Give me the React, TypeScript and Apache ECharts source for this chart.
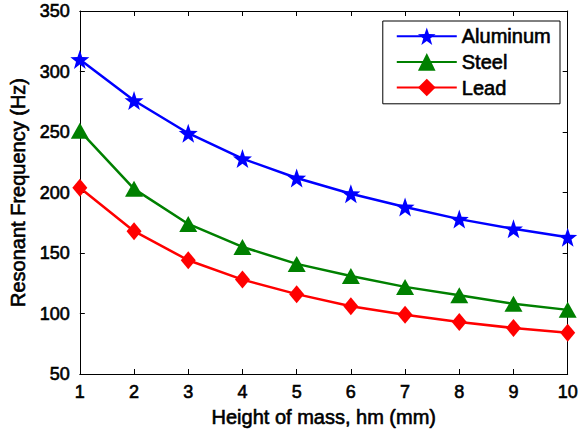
import React, { useEffect, useRef } from "react";
import * as echarts from "echarts";

const heights = [1, 2, 3, 4, 5, 6, 7, 8, 9, 10];
const aluminum = [310, 276, 249, 228, 212, 199, 188, 178, 170, 163];
const steel = [251, 203, 174, 155, 141, 131, 122, 115, 108, 103];
const lead = [204, 168, 144, 128, 116, 106, 99, 93, 88, 84];

const STAR = "path://M0,-10 L2.35,-3.24 L9.51,-3.09 L3.8,1.24 L5.88,8.09 L0,4 L-5.88,8.09 L-3.8,1.24 L-9.51,-3.09 L-2.35,-3.24 Z";
const FONT = "Liberation Sans, Arial, Helvetica, sans-serif";
const HEAVY = { textBorderColor: "#000", textBorderWidth: 0.6 };

export default function App() {
  const ref = useRef<HTMLDivElement>(null);
  useEffect(() => {
    if (!ref.current) return;
    const chart = echarts.init(ref.current, undefined, { renderer: "svg" });
    const pair = (ys: number[]) => heights.map((x, i) => [x, ys[i]]);
    const axisCommon = {
      axisLine: { show: true, lineStyle: { color: "#000", width: 1 } },
      axisTick: { show: true, inside: true, length: 5, lineStyle: { color: "#000" } },
      splitLine: { show: false },
    };
    const mk = (name: string, data: number[], color: string, symbol: string, size: any) => ({
      name,
      type: "line",
      xAxisIndex: 0,
      yAxisIndex: 0,
      data: pair(data),
      symbol,
      symbolSize: size,
      symbolKeepAspect: false,
      lineStyle: { color, width: 2.5 },
      itemStyle: { color },
      z: 3,
    });
    chart.setOption({
      animation: false,
      backgroundColor: "#fff",
      textStyle: { fontFamily: FONT },
      grid: { left: 78, right: 11, top: 11, bottom: 59, containLabel: false },
      legend: {
        orient: "vertical",
        right: 21,
        top: 21,
        backgroundColor: "#fff",
        borderColor: "#000",
        borderWidth: 1,
        padding: [5, 9, 6, 13],
        itemWidth: 60,
        itemHeight: 22,
        itemGap: 5,
        textStyle: { fontSize: 20, color: "#000", fontFamily: FONT, ...HEAVY },
        data: ["Aluminum", "Steel", "Lead"],
      },
      xAxis: [
        {
          type: "value",
          min: 1,
          max: 10,
          interval: 1,
          position: "bottom",
          name: "Height of mass, hm (mm)",
          nameLocation: "middle",
          nameGap: 31,
          nameTextStyle: { fontSize: 20, color: "#000", fontFamily: FONT, ...HEAVY },
          axisLabel: { fontSize: 18, color: "#000", margin: 9, fontFamily: FONT, ...HEAVY },
          ...axisCommon,
        },
        {
          type: "value",
          min: 1,
          max: 10,
          interval: 1,
          position: "top",
          axisLabel: { show: false },
          ...axisCommon,
        },
      ],
      yAxis: [
        {
          type: "value",
          min: 50,
          max: 350,
          interval: 50,
          position: "left",
          name: "Resonant Frequency (Hz)",
          nameLocation: "middle",
          nameGap: 50,
          nameTextStyle: { fontSize: 20, color: "#000", fontFamily: FONT, ...HEAVY },
          axisLabel: { fontSize: 18, color: "#000", margin: 10, fontFamily: FONT, ...HEAVY },
          ...axisCommon,
        },
        {
          type: "value",
          min: 50,
          max: 350,
          interval: 50,
          position: "right",
          axisLabel: { show: false },
          ...axisCommon,
        },
      ],
      series: [
        mk("Aluminum", aluminum, "#0000ff", STAR, 19),
        mk("Steel", steel, "#008000", "triangle", [18, 16]),
        mk("Lead", lead, "#ff0000", "diamond", [15, 18]),
      ],
    });
    return () => chart.dispose();
  }, []);
  return <div ref={ref} style={{ width: 581, height: 433, position: "absolute", left: 0, top: 0 }} />;
}
